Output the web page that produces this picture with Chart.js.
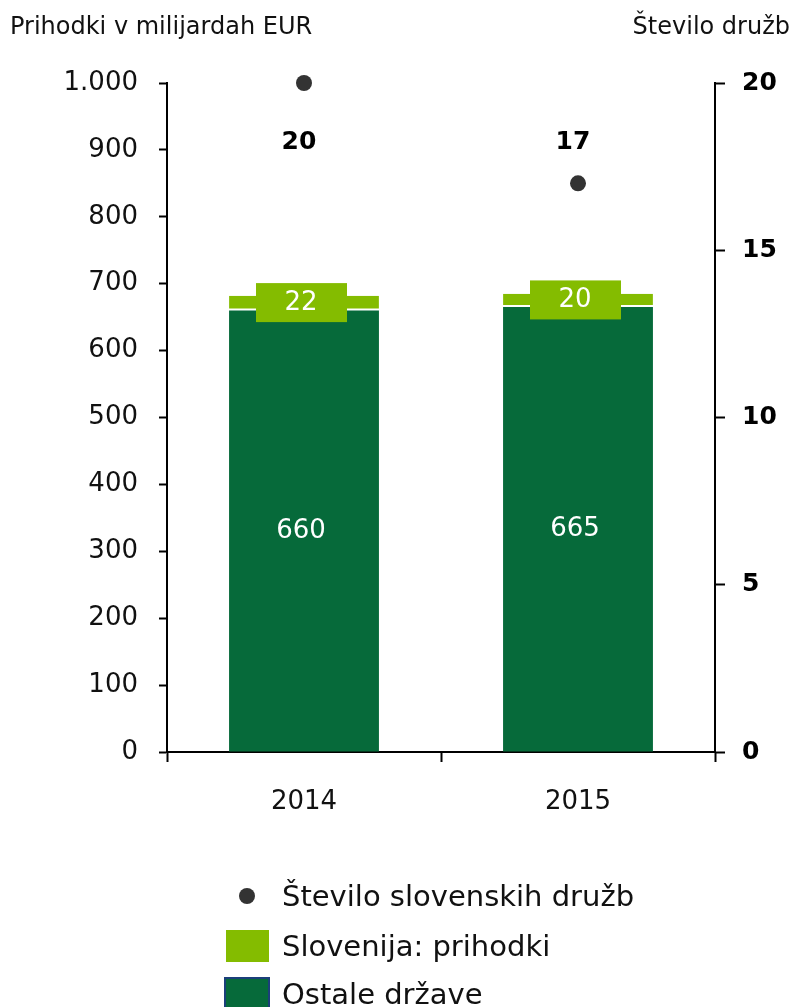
<!DOCTYPE html>
<html>
<head>
<meta charset="utf-8">
<script src="https://cdn.jsdelivr.net/npm/chart.js@4.4.7/dist/chart.umd.min.js"></script>
<style>
  body { margin: 0; background: #fff; font-family: "DejaVu Sans", Verdana, sans-serif; }
  #wrap { position: relative; width: 795px; height: 1007px; overflow: hidden; }
  #chart { position: absolute; left: 0; top: 0; }
  .axis-title { position: absolute; top: 12px; font-size: 24px; color: #111; white-space: nowrap; }
  #leftTitle { left: 10px; }
  #rightTitle { right: 5px; }
  .legend-row { position: absolute; left: 224px; height: 34px; display: flex; align-items: center; font-size: 29px; color: #111; white-space: nowrap; }
  .legend-row .mark { width: 46px; display: flex; justify-content: center; margin-right: 12px; }
  .dot { width: 16px; height: 16px; border-radius: 50%; background: #333333; }
  .sq-light { width: 43px; height: 32px; background: #84bc00; }
  .sq-dark { width: 42px; height: 30px; background: #066a3a; border: 2px solid #1b3f7a; }
</style>
</head>
<body>
<div id="wrap">
  <canvas id="chart" width="795" height="1007"></canvas>
  <div class="axis-title" id="leftTitle">Prihodki v milijardah EUR</div>
  <div class="axis-title" id="rightTitle">Število družb</div>
  <div class="legend-row" style="top: 879px;"><span class="mark"><span class="dot"></span></span>Število slovenskih družb</div>
  <div class="legend-row" style="top: 929px;"><span class="mark"><span class="sq-light"></span></span>Slovenija: prihodki</div>
  <div class="legend-row" style="top: 977px;"><span class="mark"><span class="sq-dark"></span></span>Ostale države</div>
</div>
<script>
const years = ["2014", "2015"];
const otherRevenue = [660, 665];
const sloveniaRevenue = [22, 20];
const sloveneCompanies = [20, 17];
const leftTicks = [0, 100, 200, 300, 400, 500, 600, 700, 800, 900, 1000];
const rightTicks = [0, 5, 10, 15, 20];

const darkGreen = "#066a3a";
const lightGreen = "#84bc00";
const dotColor = "#333333";
const fontFamily = "'DejaVu Sans', Verdana, sans-serif";

function formatThousands(value) {
  return new Intl.NumberFormat("de-DE").format(value);
}

const labelPlugin = {
  id: "barLabels",
  afterDatasetsDraw(chart) {
    const ctx = chart.ctx;
    ctx.save();
    ctx.textAlign = "center";
    ctx.textBaseline = "middle";

    chart.getDatasetMeta(0).data.forEach((bar, index) => {
      ctx.fillStyle = "#ffffff";
      ctx.font = `26px ${fontFamily}`;
      ctx.fillText(String(otherRevenue[index]), bar.x - 3, (bar.y + bar.base) / 2);
    });

    chart.getDatasetMeta(1).data.forEach((bar, index) => {
      const centerY = (bar.y + bar.base) / 2;
      ctx.fillStyle = lightGreen;
      ctx.fillRect(bar.x - 48, centerY - 20, 91, 39);
      ctx.fillStyle = "#ffffff";
      ctx.font = `26px ${fontFamily}`;
      ctx.fillText(String(sloveniaRevenue[index]), bar.x - 3, centerY);
    });

    chart.getDatasetMeta(2).data.forEach((point, index) => {
      ctx.fillStyle = "#000000";
      ctx.font = `bold 25px ${fontFamily}`;
      ctx.fillText(String(sloveneCompanies[index]), point.x - 5, chart.chartArea.top + 59);
    });
    ctx.restore();
  },
};

new Chart(document.querySelector("#chart"), {
  data: {
    labels: years,
    datasets: [
      {
        type: "bar",
        label: "Ostale države",
        data: otherRevenue,
        backgroundColor: darkGreen,
        yAxisID: "y",
        stack: "revenue",
        barPercentage: 0.547,
        categoryPercentage: 1,
        order: 2,
      },
      {
        type: "bar",
        label: "Slovenija: prihodki",
        data: sloveniaRevenue,
        backgroundColor: lightGreen,
        borderColor: "#ffffff",
        borderWidth: { top: 0, left: 0, right: 0, bottom: 2 },
        borderSkipped: false,
        yAxisID: "y",
        stack: "revenue",
        barPercentage: 0.547,
        categoryPercentage: 1,
        order: 2,
      },
      {
        type: "line",
        label: "Število slovenskih družb",
        data: sloveneCompanies,
        yAxisID: "y1",
        showLine: false,
        clip: false,
        pointRadius: 8,
        pointHoverRadius: 8,
        pointBackgroundColor: dotColor,
        pointBorderWidth: 0,
        order: 1,
      },
    ],
  },
  options: {
    responsive: false,
    animation: false,
    events: [],
    layout: { padding: { top: 83, bottom: 150, left: 0, right: 0 } },
    plugins: {
      legend: { display: false },
      tooltip: { enabled: false },
    },
    scales: {
      x: {
        stacked: true,
        offset: true,
        afterFit(scale) { scale.height = 105; },
        grid: { offset: true, drawOnChartArea: false, drawTicks: true, tickLength: 10, tickColor: "#000", tickWidth: 2 },
        border: { display: true, color: "#000", width: 2 },
        ticks: { color: "#111", font: { family: fontFamily, size: 26 }, padding: 25 },
      },
      y: {
        stacked: true,
        position: "left",
        min: 0,
        max: 1000,
        afterFit(scale) { scale.width = 167; },
        afterBuildTicks(scale) { scale.ticks = leftTicks.map((value) => ({ value })); },
        grid: { drawOnChartArea: false, drawTicks: true, tickLength: 8, tickColor: "#000", tickWidth: 2 },
        border: { display: true, color: "#000", width: 2 },
        ticks: { color: "#111", font: { family: fontFamily, size: 26 }, padding: 21, callback: formatThousands },
      },
      y1: {
        position: "right",
        min: 0,
        max: 20,
        afterFit(scale) { scale.width = 80; },
        afterBuildTicks(scale) { scale.ticks = rightTicks.map((value) => ({ value })); },
        grid: { drawOnChartArea: false, drawTicks: true, tickLength: 10, tickColor: "#000", tickWidth: 2 },
        border: { display: true, color: "#000", width: 2 },
        ticks: { color: "#000", font: { family: fontFamily, size: 25, weight: "bold" }, padding: 17 },
      },
    },
  },
  plugins: [labelPlugin],
});
</script>
</body>
</html>
